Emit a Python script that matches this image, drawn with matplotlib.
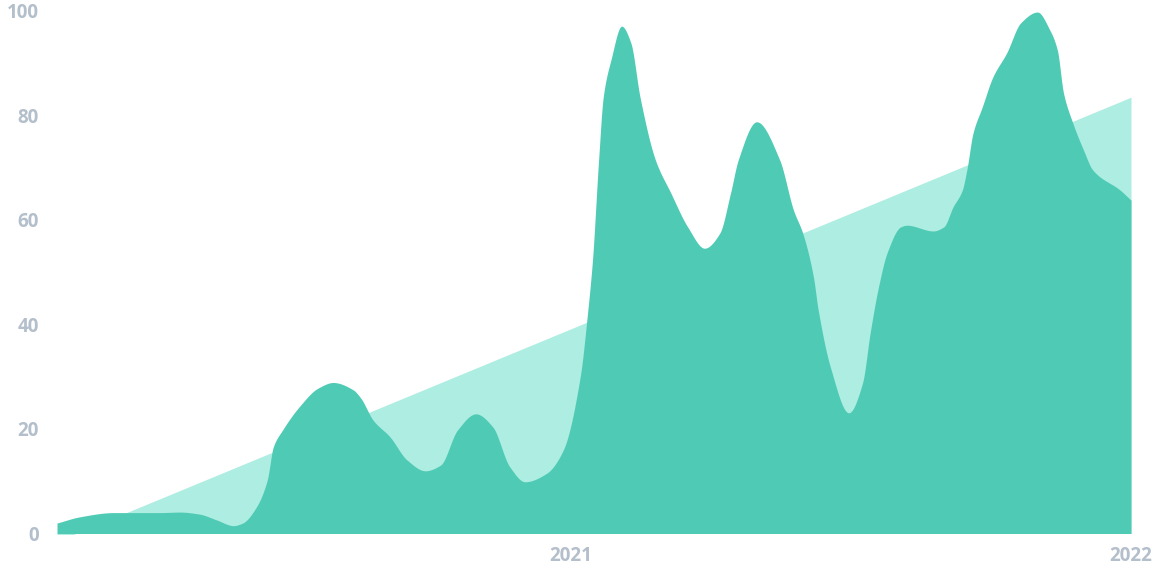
import numpy as np
import pandas as pd
import matplotlib
matplotlib.use("Agg")
import matplotlib.pyplot as plt

# ---- data ----
start_date = "2020-02-01"
end_date = "2022-01-01"

# days since start_date
day_offsets = [0, 15, 37, 67, 80, 93, 104, 115, 121, 130, 137, 141, 147, 158,
               170, 180, 193, 198, 206, 217, 228, 240, 250, 261, 273, 284, 295,
               305, 319, 330, 341, 346, 349, 353, 356, 361, 368, 374, 380, 390,
               400, 411, 422, 432, 439, 444, 456, 471, 480, 486, 493, 496, 504,
               516, 525, 530, 535, 541, 550, 554, 571, 578, 584, 590, 593, 597,
               603, 610, 619, 628, 639, 647, 652, 656, 662, 669, 675, 693, 700]
values = [2.0, 3.2, 4.0, 4.0, 4.1, 3.7, 2.6, 1.5, 2.0, 5.1, 10.2, 16.6, 19.8, 24.3,
          27.8, 28.9, 27.5, 25.9, 21.7, 18.5, 14.1, 12.0, 13.1, 19.8, 22.9, 20.4, 12.8,
          9.9, 11.5, 16.0, 30.0, 42.8, 52.3, 71.5, 83.5, 90.6, 97.1, 93.9, 83.5, 71.5,
          65.2, 58.7, 54.6, 57.5, 65.2, 71.5, 78.8, 71.5, 61.9, 57.5, 49.1, 43.0, 31.9,
          23.1, 28.8, 38.4, 46.6, 53.7, 58.7, 59.0, 57.9, 58.7, 62.5, 65.7, 69.6, 76.6,
          81.6, 87.4, 92.0, 97.7, 99.8, 96.4, 92.5, 84.3, 78.6, 73.4, 69.6, 65.7, 63.8]

trend_dates = [start_date, end_date]
trend_values = [-1.5, 83.5]

y_ticks = [0, 20, 40, 60, 80, 100]
x_tick_dates = ["2021-01-01", "2022-01-01"]
x_tick_labels = ["2021", "2022"]

DARK = "#4FCBB5"
LIGHT = "#AEEDE1"
LABEL = "#B4BFCC"


def pchip(x, y, xs):
    x = np.asarray(x, float)
    y = np.asarray(y, float)
    h = np.diff(x)
    d = np.diff(y) / h
    n = len(x)
    m = np.zeros(n)
    for k in range(1, n - 1):
        if d[k - 1] * d[k] > 0:
            w1 = 2 * h[k] + h[k - 1]
            w2 = h[k] + 2 * h[k - 1]
            m[k] = (w1 + w2) / (w1 / d[k - 1] + w2 / d[k])
        else:
            m[k] = 0.0
    m[0] = d[0]
    m[-1] = d[-1]
    idx = np.clip(np.searchsorted(x, xs) - 1, 0, n - 2)
    t = (xs - x[idx]) / h[idx]
    h00 = 2 * t**3 - 3 * t**2 + 1
    h10 = t**3 - 2 * t**2 + t
    h01 = -2 * t**3 + 3 * t**2
    h11 = t**3 - t**2
    return h00 * y[idx] + h10 * h[idx] * m[idx] + h01 * y[idx + 1] + h11 * h[idx] * m[idx + 1]


start = pd.Timestamp(start_date)
x_days = np.array(day_offsets, float)
fine = np.linspace(x_days[0], x_days[-1], 3000)
smooth = pchip(x_days, values, fine)
fine_dates = start + pd.to_timedelta(fine, unit="D")

plt.rcParams['font.family'] = ['Open Sans', 'DejaVu Sans']

fig = plt.figure(figsize=(11.6, 5.8), dpi=100)
ax = fig.add_axes([57 / 1160, 46.5 / 580, (1131 - 57) / 1160, (533.5 - 11) / 580])

ax.fill_between(pd.to_datetime(trend_dates), trend_values, 0, color=LIGHT, linewidth=0, zorder=1)
ax.fill_between(fine_dates, smooth, 0, color=DARK, linewidth=0, zorder=2)

ax.set_xlim(pd.Timestamp(start_date), pd.Timestamp(end_date))
ax.set_ylim(0, 100)
ax.set_yticks(y_ticks)
ax.set_yticklabels([str(v) for v in y_ticks], fontweight='bold', fontsize=13.5, color=LABEL)
ax.set_xticks(pd.to_datetime(x_tick_dates))
ax.set_xticklabels(x_tick_labels, fontweight='bold', fontsize=13.5, color=LABEL)

for s in ax.spines.values():
    s.set_visible(False)
ax.tick_params(axis='both', length=0)
ax.tick_params(axis='y', pad=13)
ax.tick_params(axis='x', pad=9)
ax.set_facecolor('white')

fig.savefig("out.png", dpi=100, facecolor='white')
